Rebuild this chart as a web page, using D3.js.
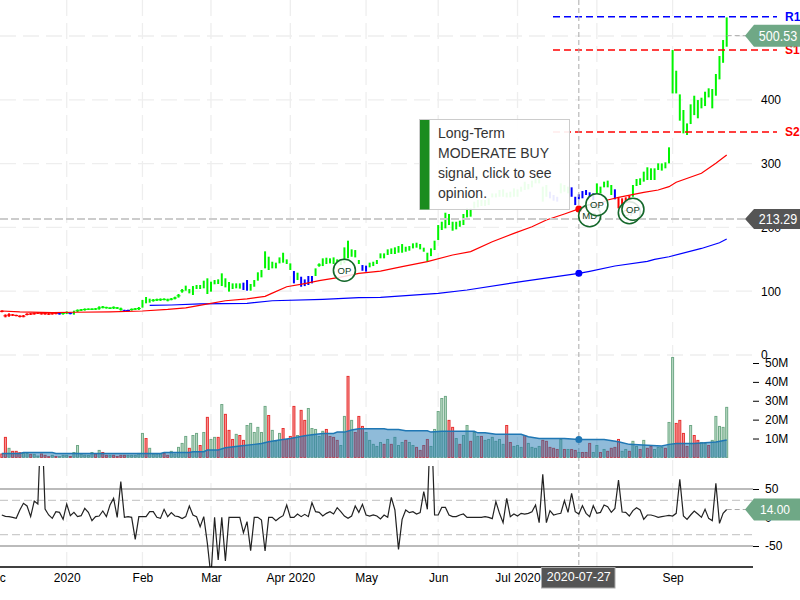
<!DOCTYPE html>
<html>
<head>
<meta charset="utf-8">
<script src="https://cdn.jsdelivr.net/npm/d3@7"></script>
<style>
  body { margin: 0; background: #fff; }
  text { font-family: "Liberation Sans", Arial, sans-serif; }
</style>
</head>
<body>
<div id="chart"></div>
<script>
// one entry per trading day, ten days a line
var barHigh = [
  70,63.7,65.3,64.3,63.2,62.2,62.7,65.3,65.8,66.3,
  66.9,66.3,66.3,65.8,66.3,66.9,66.3,67.4,68.4,66.9,
  69.5,71.6,72.1,73.1,73.1,73.1,73.7,76.3,76.8,75.7,
  74.7,76.3,75.2,74.2,71,71,73.1,73.7,75.2,86.2,
  90.9,88.3,87.8,88.3,88.8,88.8,88.3,89.3,91.4,95.6,
  103.4,108.7,103.4,108.1,109.7,109.7,116.5,120.2,114.9,117.5,
  118.6,128,120.2,114.4,112.3,112.3,112.3,113.4,117.5,111.3,
  117.5,129.6,133.2,162.5,154.1,146.2,144.7,153,160.3,149.9,
  143.6,131.6,129,122.7,118.5,123.8,123.8,135.8,143.6,151.5,
  152.5,151.5,153,149.9,149.9,168.7,179.2,165.6,164.5,148.9,
  141,140,144.7,146.2,148.9,159.3,159.3,165.6,167.1,168.7,
  170.8,173.9,169.7,170.8,175,176,174,168.2,160.3,167.1,
  179.2,203.7,208.9,223,221,208.9,208.9,210.5,221,229.8,
  229.8,240.3,242.9,242.9,242.9,245.5,253.3,253.3,258.6,259.6,
  254.4,256,261.2,259.6,263.8,271.6,268,273.2,276.9,279.5,
  263.9,266.5,256,250.8,248,269,266.5,263.9,262.8,248,
  251.9,257,258.6,255,253.4,269,263.9,271.7,273.3,266.5,
  259.7,246.6,245.6,247.2,249.8,266.5,275.9,276.9,287.4,294.2,
  292.6,292.6,300.4,300.4,302,325.5,478,445.6,408.5,384,
  363,392.9,406.4,399.6,403.3,412.7,418,416.9,440.4,468.6,
  493.7,529.2
];
var barLow = [
  67,59,60,61.1,60.6,59,59,62.2,62.7,63.2,
  64.3,63.2,63.2,62.7,63.2,63.7,63.2,63.2,64.3,63.7,
  63.2,67.4,69,69.5,70.5,70.5,70.5,71,73.1,72.6,
  72.1,72.1,72.1,69.5,67.4,68.4,69.5,70.5,70.5,74.2,
  81,82,83.6,84.6,84.6,85.7,84.1,85.7,87.2,89.9,
  97.7,100.8,96.6,94,103.4,103.4,104.5,95.6,99.3,110.8,
  111.3,108.1,106,99.3,103.4,104.5,104,101.9,100.8,100.8,
  107,116.5,121.7,135.8,133.2,135.8,135.8,143.6,144.7,142.6,
  133.2,112.3,117.5,107,108,109.7,112.3,123.8,138.4,139.4,
  142.6,143.6,142.6,142.6,141,143.6,151.5,154,153,142.6,
  132,130.6,137.4,139.4,142.6,151.5,151.5,156.7,158.3,158.3,
  160.3,160.3,161.9,163.5,167.1,168.2,165.6,161.9,146.2,155,
  164.5,180.2,195.9,198.5,203.7,194.8,196.9,201,203.7,215.7,
  216.8,229.8,231.4,233.5,233.5,235,247,247,248,248,
  247,247,248,248,256,258.6,259.6,262.8,269,269,
  240.4,248,245.6,241.9,240.4,253.4,256,253.4,248,235,
  244,245.6,250.8,248,243,253.4,253.4,262.8,262.8,250.8,
  244,229.9,232.5,235,241.9,248,264.9,266.5,271.7,274.3,
  274.3,274.3,290,289,292.6,300.4,410,410,367.3,347.4,
  344.8,362,376,371,386.6,390.2,403.8,386.6,406.4,432,
  458,483.2
];
var redBars = d3.range(0, 16).concat([171, 172, 173, 174]);
var blueBars = [16, 19, 34, 35, 67, 68, 81, 83, 84, 85, 86, 100, 101, 152, 153, 154, 158, 159, 160, 161, 162, 163, 164, 170];

var ma50Days = [0,5,14,20,30,39,46,51,56,62,68,73,75,79,84,88,94,99,105,111,118,125,130,136,142,147,151,156,160,165,168,171,178,182,185,187,194,198,201];
var ma50Values = [69,67.5,66.5,67,67.5,69,71.5,74,79,85,88,92,97,107,112,116.5,122,128,131.6,138.4,146.3,156.7,162,177.6,190.7,201,211.6,221,229,235,243,247,255,258.6,263.8,270.7,284.8,300.4,313.5];
var ma200Days = [41,47,55,68,75,89,99,105,121,129,144,160,163,170,179,181,185,194,199,201];
var ma200Values = [77.8,78.4,80,81,85,87.3,89.8,90.4,96.7,101.9,114.9,128,131.2,139.5,146.8,150,154,167,176,181.8];

var volume = [
  1.8,10.6,4.8,3.2,3.2,2.5,2.1,2.1,1.6,1.6,
  0.7,1.8,1.1,0.4,1.1,0.5,0.4,1.1,1.1,0.5,
  2.6,6.3,1.8,1.2,1.1,2.6,1.8,3.7,2.6,1.1,
  1.1,1.1,0.5,1.1,1.1,1.1,1.1,1.1,2.1,12.7,
  10,4.8,1.8,1.8,1.8,2.1,1.1,3.2,1.8,5.3,
  7.4,11.1,4.8,11.6,12.7,6.3,13.2,21.2,9.5,10.6,
  10.6,28,22.8,14.3,9.5,12.2,11.6,9,16.9,18,
  13.2,15.9,13.2,27,22.2,14.3,8.5,12.7,15.3,9.5,
  11.1,27,11.6,24.9,19.6,25.9,15.3,14.8,11.1,13.8,
  14.8,11.1,10.6,9,6.3,21.7,42.9,19.6,13.2,21.7,
  16.4,13.2,9,6.9,5.8,7.9,6.9,9.5,6.9,10.6,
  6.3,7.9,9,7.9,6.3,5.3,3.7,6.3,9.5,5.8,
  14.8,24.3,31.2,32.3,19.6,15.9,10,6.9,11.6,16.9,
  8.5,13.2,11.1,11.1,9,9.5,10.6,8.5,9.5,6.9,
  16.9,7.9,5.8,6.3,5.3,11.6,7.4,5.3,4.8,5.8,
  9,8.5,5.3,4.8,4.2,9.5,4.2,4.2,4.2,3.7,
  2.6,2.6,2.6,7.4,2.6,6.3,2.6,4.2,3.2,4.8,
  5.3,9.5,3.2,4.2,3.2,8.5,5.8,4.2,9,4.8,
  5.8,4.2,5.3,5.3,4.8,18.5,52.9,18,19.6,12.7,
  5.8,16.9,11.6,9,7.9,7.4,6.3,9,21.7,16.4,
  15.9,26.5
];
var volumeDownDays = [0,1,3,4,5,8,11,12,13,15,19,26,28,29,31,32,33,34,40,45,46,52,55,57,60,62,63,64,66,67,74,78,79,80,81,83,84,90,91,92,93,96,98,99,100,106,108,112,115,116,117,118,124,125,127,130,133,140,141,145,150,151,152,153,154,156,158,159,161,162,163,166,168,169,170,171,174,177,179,180,184,187,188,189,190,192,193,196];
var volAvgDays = [0,5,6,14,15,44,45,52,53,56,57,60,62,66,70,72,74,77,80,84,86,89,92,93,95,97,99,106,107,110,112,118,119,122,131,132,134,137,140,144,146,149,156,160,167,171,174,179,183,185,187,192,195,198,201];
var volAvgValues = [2.1,2.1,2.6,2.6,2.1,2.1,2.6,2.6,3,3,3.9,3.9,5.1,6,6.9,7.4,8.3,9.2,10,11.5,12,12.7,12.7,13.4,13.4,14.5,15.2,15.2,14.8,14.8,14.1,14.1,13.4,13.8,13.8,13,13,12.3,12.2,12.2,10.9,10,10,9.5,9.5,8.3,6.9,6.5,6,6.9,7.4,7.4,7.8,8.1,9.2];

var indicator = [
  4.4,2,1.5,0.3,-1.5,13.2,24.9,20.2,1.5,29,
  23.7,190,14.9,4.4,-1.5,10.2,9,-3.2,23.7,3.2,
  9,1.5,3.2,16,9,-5.6,1.5,2.6,11.4,1.5,
  21.9,33.6,0.3,62.9,0.3,1.5,0.3,-38.3,1.5,1.5,
  1.5,10.2,10.2,0.3,-1.5,14.3,1.5,8.5,2.6,1.5,
  -2,1.5,20.2,4.4,1.5,-16,1.5,-45.4,-103.9,0.3,
  -74.6,0.3,-76.4,0.3,0.3,0.3,0.3,-26.6,-7.3,-58.2,
  0.3,0.3,-4.4,-58.8,0.3,0.3,-5.6,-0.3,3.2,21.9,
  0.3,0.3,6.1,1.5,5.5,1.5,26,10.2,9,2.6,
  7.3,10.2,6.1,17.2,10.2,2.6,-1.5,2.6,20.2,9,
  23.1,4.4,2.6,4.4,2.6,-2.6,4.4,0.3,35.4,13.2,
  -55.9,-3.2,13.2,8.5,10.2,6.1,8.5,45.3,14.3,190,
  4.4,4.4,17.8,17.8,4.4,1.5,1.5,4.4,6.1,0.3,
  0.3,0.3,0.3,0.3,1.5,0.3,-2,27.8,7.3,-9.1,
  33.6,1.5,6.1,2.6,7.3,6.1,7.3,10.2,21.9,-9.1,
  75.7,-9.1,12,4.4,6.1,7.3,29.5,9,42.4,10.2,
  6.1,20.8,7.3,1.5,20.8,7.3,9,21.9,19,9,
  16,65.8,9.6,9,2.6,12,17.2,13.2,-3.2,4.4,
  4.4,2.6,0.3,1.5,2.6,3.8,2.6,7.3,67,2.6,
  -3.2,4.4,11.4,6.1,0.3,14.3,-1.5,-5.6,60,-10.3,
  7.3,14
];

var xTickDays = [-2, 18, 39, 58, 80, 101, 121, 143, 186];
var xTickLabels = ["Dec", "2020", "Feb", "Mar", "Apr 2020", "May", "Jun", "Jul 2020", "Sep"];
var priceTicks = [0, 100, 200, 300, 400, 500];
var volumeTicks = [10, 20, 30, 40, 50];
var indicatorTicks = [-50, 0, 50];

var levelNames = ["R1", "S1", "S2"];
var levelValues = [530, 478, 349.5];

var markerDays = [95, 163, 165, 174, 175];
var markerPrices = [132.8, 218.3, 235.6, 223, 228.4];
var markerLabels = ["OP", "MD", "OP", "OP", "OP"];

var crossDay = 160;
var crossDate = "2020-07-27";
var crossPrice = 213.29;
var lastPrice = 500.53;
var lastIndicator = 14;
var tipLines = ["Long-Term", "MODERATE BUY", "signal, click to see", "opinion."];

var svgWidth = 800;
var svgHeight = 600;
var plotRight = 753;
var axisY = 567;

var svg = d3.select("#chart").append("svg")
  .attr("width", svgWidth)
  .attr("height", svgHeight)
  .style("display", "block");

var defs = svg.append("defs");
defs.append("clipPath").attr("id", "indClip").append("rect")
  .attr("x", 0).attr("y", 466).attr("width", plotRight).attr("height", axisY - 466);

// scales
var x = d3.scaleLinear().domain([0, 201]).range([1.8, 726.7]);
var yPrice = d3.scaleLinear().domain([0, 500]).range([355, 36]);
var yVol = d3.scaleLinear().domain([0, 50]).range([457.4, 363]);
var yInd = d3.scaleLinear().domain([-50, 50]).range([546, 489]);

// grid
var gridG = svg.append("g")
  .attr("stroke", "#eee")
  .attr("stroke-width", 1.3)
  .attr("stroke-dasharray", "16 7");
gridG.selectAll(".vgrid")
  .data(xTickDays.slice(1).concat([165]))
  .enter()
  .append("line")
  .attr("x1", d => x(d)).attr("x2", d => x(d))
  .attr("y1", 0).attr("y2", axisY);
gridG.selectAll(".hgrid")
  .data(priceTicks)
  .enter()
  .append("line")
  .attr("x1", 0).attr("x2", plotRight)
  .attr("y1", d => yPrice(d)).attr("y2", d => yPrice(d));

// price bars
var days = d3.range(barHigh.length);
function barColor(d) {
  if (redBars.indexOf(d) >= 0) return "#f00";
  if (blueBars.indexOf(d) >= 0) return "#00f";
  return "#00f500";
}
var barsG = svg.append("g");
barsG.selectAll("line.hl")
  .data(days)
  .enter()
  .append("line")
  .attr("class", "hl")
  .attr("x1", d => x(d)).attr("x2", d => x(d))
  .attr("y1", d => yPrice(barHigh[d])).attr("y2", d => yPrice(barLow[d]))
  .attr("stroke", barColor)
  .attr("stroke-width", 2);
barsG.selectAll("line.mid")
  .data(days.filter(d => yPrice(barLow[d]) - yPrice(barHigh[d]) < 4))
  .enter()
  .append("line")
  .attr("class", "mid")
  .attr("x1", d => x(d) - 2).attr("x2", d => x(d) + 2)
  .attr("y1", d => yPrice((barHigh[d] + barLow[d]) / 2))
  .attr("y2", d => yPrice((barHigh[d] + barLow[d]) / 2))
  .attr("stroke", barColor)
  .attr("stroke-width", 1);

// moving averages
var maLine = d3.line()
  .x(d => x(d[0]))
  .y(d => yPrice(d[1]));
svg.append("path")
  .datum(d3.zip(ma200Days, ma200Values))
  .attr("d", maLine)
  .attr("fill", "none")
  .attr("stroke", "#00f")
  .attr("stroke-width", 1.2);
svg.append("path")
  .datum(d3.zip(ma50Days, ma50Values))
  .attr("d", maLine)
  .attr("fill", "none")
  .attr("stroke", "#f00")
  .attr("stroke-width", 1.2);

// support and resistance levels
svg.selectAll(".level")
  .data(levelValues)
  .enter()
  .append("line")
  .attr("class", "level")
  .attr("x1", 553).attr("x2", 777)
  .attr("y1", d => yPrice(d)).attr("y2", d => yPrice(d))
  .attr("stroke", (d, i) => i == 0 ? "#00f" : "#f00")
  .attr("stroke-width", 1.5)
  .attr("stroke-dasharray", "7 4");

// crosshair, drawn under the markers
svg.append("line")
  .attr("x1", x(crossDay)).attr("x2", x(crossDay))
  .attr("y1", 0).attr("y2", axisY)
  .attr("stroke", "#aaa")
  .attr("stroke-dasharray", "5 3");
svg.append("line")
  .attr("x1", 0).attr("x2", 746)
  .attr("y1", yPrice(crossPrice)).attr("y2", yPrice(crossPrice))
  .attr("stroke", "#ccc")
  .attr("stroke-width", 2)
  .attr("stroke-dasharray", "8 3");
svg.append("circle")
  .attr("cx", x(crossDay))
  .attr("cy", yPrice(ma50Values[ma50Days.indexOf(crossDay)]))
  .attr("r", 3.5)
  .attr("fill", "#f00");
svg.append("circle")
  .attr("cx", x(crossDay))
  .attr("cy", yPrice(ma200Values[ma200Days.indexOf(crossDay)]))
  .attr("r", 3.5)
  .attr("fill", "#00f");

// opinion markers
var markerG = svg.selectAll(".marker")
  .data(markerDays)
  .enter()
  .append("g")
  .attr("class", "marker")
  .attr("transform", (d, i) => `translate(${x(d)}, ${yPrice(markerPrices[i])})`);
markerG.append("circle")
  .attr("r", 11)
  .attr("fill", "#fff")
  .attr("fill-opacity", 0.85)
  .attr("stroke", "#14672a")
  .attr("stroke-width", 1.6);
markerG.append("text")
  .text((d, i) => markerLabels[i])
  .attr("text-anchor", "middle")
  .attr("dy", "0.35em")
  .attr("font-size", "9.5px")
  .attr("fill", "#0f3d1a");

// volume
var volG = svg.append("g");
volG.selectAll("rect")
  .data(days)
  .enter()
  .append("rect")
  .attr("x", d => x(d) - 1)
  .attr("width", 2)
  .attr("y", d => yVol(volume[d]))
  .attr("height", d => yVol(0) - yVol(volume[d]))
  .attr("fill", d => volumeDownDays.indexOf(d) >= 0 ? "#f59a9a" : "#bcdcc6")
  .attr("stroke", d => volumeDownDays.indexOf(d) >= 0 ? "#e8302f" : "#6fa886")
  .attr("stroke-width", 1);

var volAvg = d3.zip(volAvgDays, volAvgValues);
svg.append("path")
  .datum(volAvg)
  .attr("d", d3.area().x(d => x(d[0])).y0(yVol(0)).y1(d => yVol(d[1])))
  .attr("fill", "#1f77b4")
  .attr("fill-opacity", 0.5);
svg.append("path")
  .datum(volAvg)
  .attr("d", d3.line().x(d => x(d[0])).y(d => yVol(d[1])))
  .attr("fill", "none")
  .attr("stroke", "#1f77b4")
  .attr("stroke-width", 1.5);
svg.append("circle")
  .attr("cx", x(crossDay))
  .attr("cy", yVol(volAvgValues[volAvgDays.indexOf(crossDay)]))
  .attr("r", 3.5)
  .attr("fill", "#1f77b4");

// indicator panel
svg.selectAll(".indSolid")
  .data([50, -50])
  .enter()
  .append("line")
  .attr("x1", 0).attr("x2", plotRight)
  .attr("y1", d => yInd(d)).attr("y2", d => yInd(d))
  .attr("stroke", "#bbb")
  .attr("stroke-width", 2);
svg.selectAll(".indDash")
  .data([30, -30])
  .enter()
  .append("line")
  .attr("x1", 0).attr("x2", plotRight)
  .attr("y1", d => yInd(d)).attr("y2", d => yInd(d))
  .attr("stroke", "#ccc")
  .attr("stroke-width", 1.3)
  .attr("stroke-dasharray", "8 4");
svg.append("path")
  .datum(indicator)
  .attr("d", d3.line().x((d, i) => x(i)).y(d => yInd(d)))
  .attr("clip-path", "url(#indClip)")
  .attr("fill", "none")
  .attr("stroke", "#222")
  .attr("stroke-width", 1.2);

// axes
function styleAxis(g) {
  g.selectAll(".domain").remove();
  g.selectAll("text").attr("font-size", "12px").attr("fill", "#000");
  g.selectAll("line").attr("stroke", "#000");
}
svg.append("g")
  .attr("transform", `translate(${plotRight}, 0)`)
  .call(d3.axisRight(yPrice).tickValues(priceTicks).tickSize(0).tickPadding(8))
  .call(styleAxis);
svg.append("g")
  .attr("transform", `translate(${plotRight}, 0)`)
  .call(d3.axisRight(yVol).tickValues(volumeTicks).tickSize(6).tickPadding(6).tickFormat(d => d + "M"))
  .call(styleAxis);
svg.append("g")
  .attr("transform", `translate(${plotRight}, 0)`)
  .call(d3.axisRight(yInd).tickValues(indicatorTicks).tickSize(6).tickPadding(6).tickFormat(d => "" + d))
  .call(styleAxis);

var xAxis = svg.append("g")
  .attr("transform", `translate(0, ${axisY})`)
  .call(d3.axisBottom(x).tickValues(xTickDays).tickSize(0).tickPadding(6.5)
    .tickFormat((d, i) => xTickLabels[i]));
xAxis.selectAll("text").attr("font-size", "12px").attr("fill", "#000");
xAxis.select(".domain").remove();
xAxis.append("line")
  .attr("x1", 0).attr("x2", plotRight)
  .attr("stroke", "#000")
  .attr("stroke-width", 1.5);

// level names
svg.selectAll(".levelName")
  .data(levelNames)
  .enter()
  .append("text")
  .text(d => d)
  .attr("x", 785)
  .attr("y", (d, i) => yPrice(levelValues[i]))
  .attr("dy", "0.35em")
  .attr("font-size", "12px")
  .attr("font-weight", "bold")
  .attr("fill", (d, i) => i == 0 ? "#00f" : "#f00");

// value tags at the right edge, the text is narrowed like the original
function drawTag(yPos, h, label, color, fontSize, textX, textW) {
  svg.append("path")
    .attr("d", d3.line()([[745, yPos], [754, yPos - h], [800, yPos - h], [800, yPos + h], [754, yPos + h]]) + "Z")
    .attr("fill", color);
  svg.append("text")
    .text(label)
    .attr("x", textX)
    .attr("y", yPos)
    .attr("dy", "0.36em")
    .attr("text-anchor", "middle")
    .attr("font-size", fontSize)
    .attr("textLength", textW)
    .attr("lengthAdjust", "spacingAndGlyphs")
    .attr("fill", "#fff");
}
function tagLink(yPos) {
  svg.append("line")
    .attr("x1", x(201)).attr("x2", 746)
    .attr("y1", yPos).attr("y2", yPos)
    .attr("stroke", "#aaa")
    .attr("stroke-dasharray", "5 3");
}
tagLink(yPrice(lastPrice));
tagLink(yInd(lastIndicator));
var fmt = d3.format(".2f");
drawTag(yPrice(lastPrice), 11, fmt(lastPrice), "#6fa886", "14px", 778, 38.3);
drawTag(yPrice(crossPrice), 10, fmt(crossPrice), "#555", "14px", 778, 38.3);
drawTag(yInd(lastIndicator), 11, fmt(lastIndicator), "#6fa886", "13.5px", 775, 30);

// date tag under the crosshair
svg.append("rect")
  .attr("x", 541.5).attr("y", 567.5)
  .attr("width", 73.5).attr("height", 20.5)
  .attr("fill", "#555")
  .attr("stroke", "#aaa");
svg.append("text")
  .text(crossDate)
  .attr("x", x(crossDay))
  .attr("y", 576)
  .attr("dy", "0.36em")
  .attr("text-anchor", "middle")
  .attr("font-size", "13.5px")
  .attr("textLength", 64)
  .attr("lengthAdjust", "spacingAndGlyphs")
  .attr("fill", "#fff");

// opinion tooltip
var tipG = svg.append("g");
tipG.append("rect")
  .attr("x", 419.5).attr("y", 119.5)
  .attr("width", 150).attr("height", 90)
  .attr("fill", "#fff")
  .attr("fill-opacity", 0.92)
  .attr("stroke", "#ccc");
tipG.append("rect")
  .attr("x", 420).attr("y", 120)
  .attr("width", 9.5).attr("height", 89.5)
  .attr("fill", "#1a8c1e");
tipG.selectAll("text")
  .data(tipLines)
  .enter()
  .append("text")
  .text(d => d)
  .attr("x", 438)
  .attr("y", (d, i) => 133 + i * 20)
  .attr("dy", "0.35em")
  .attr("font-size", "14px")
  .attr("fill", "#333");
</script>
</body>
</html>
